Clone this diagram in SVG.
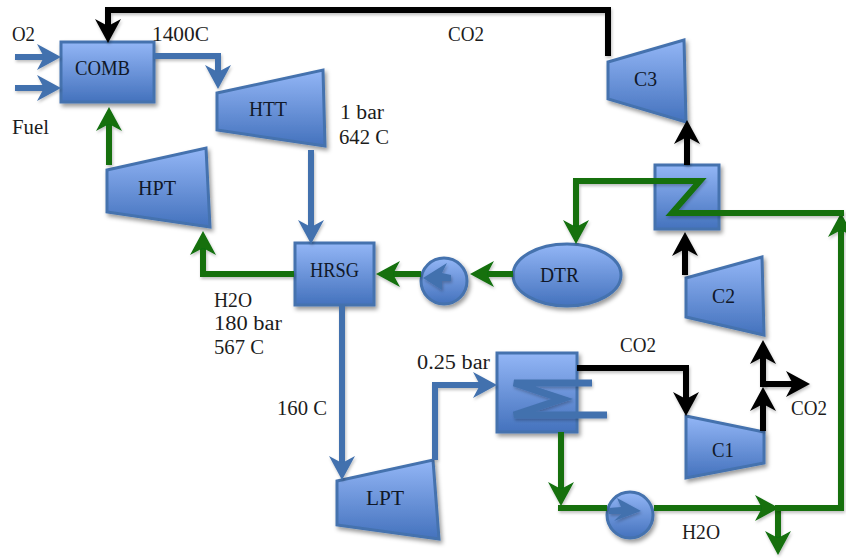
<svg xmlns="http://www.w3.org/2000/svg" width="846" height="558" viewBox="0 0 846 558">
<style>
text{font-family:"Liberation Serif","Times New Roman",serif;font-size:20px;fill:#1c1c1c}
.n{fill:url(#g);stroke:#4472ae;stroke-width:3;filter:url(#s)}
.nt{fill:#101828}
.c{fill:none;stroke-width:6;stroke-linejoin:miter;filter:url(#s2)}
.b{stroke:#4271ae}.k{stroke:#000}.v{stroke:#12700f}
.mb{marker-end:url(#ab)}.mk{marker-end:url(#ak)}.mv{marker-end:url(#av)}
</style>
<defs>
<linearGradient id="g" x1="0" y1="0" x2="0" y2="1"><stop offset="0" stop-color="#93b6f6"/><stop offset="1" stop-color="#4472bd"/></linearGradient>
<filter id="s" filterUnits="userSpaceOnUse" x="0" y="0" width="846" height="558"><feDropShadow dx="2" dy="3" stdDeviation="2" flood-color="#000" flood-opacity=".4"/></filter>
<filter id="s2" filterUnits="userSpaceOnUse" x="0" y="0" width="846" height="558"><feDropShadow dx="1" dy="2" stdDeviation="1.5" flood-color="#000" flood-opacity=".25"/></filter>
<marker id="ab" markerUnits="userSpaceOnUse" markerWidth="26" markerHeight="28" refX="8" refY="14" orient="auto"><path d="M0 1 24 14 0 27 7 14Z" fill="#4271ae"/></marker>
<marker id="ak" markerUnits="userSpaceOnUse" markerWidth="26" markerHeight="28" refX="8" refY="14" orient="auto"><path d="M0 1 24 14 0 27 7 14Z" fill="#000"/></marker>
<marker id="av" markerUnits="userSpaceOnUse" markerWidth="26" markerHeight="28" refX="8" refY="14" orient="auto"><path d="M0 1 24 14 0 27 7 14Z" fill="#12700f"/></marker>
</defs>
<rect width="846" height="558" fill="#fff"/>
<g id="COMB"><rect class="n" x="61" y="42" width="93" height="60"/><text class="nt" x="75" y="75" textLength="55" lengthAdjust="spacingAndGlyphs">COMB</text></g>
<g id="HTT"><polygon class="n" points="217,93 323,70 325,146 217,130"/><text class="nt" x="249" y="116" textLength="38" lengthAdjust="spacingAndGlyphs">HTT</text></g>
<g id="HPT"><polygon class="n" points="107,170 206,148 210,227 107,212"/><text class="nt" x="138" y="195" textLength="38" lengthAdjust="spacingAndGlyphs">HPT</text></g>
<g id="HRSG"><rect class="n" x="295" y="243" width="79" height="62"/><text class="nt" x="310" y="277" textLength="49" lengthAdjust="spacingAndGlyphs">HRSG</text></g>
<g id="PUMP1"><circle class="n" cx="444" cy="281" r="23"/></g>
<g id="DTR"><ellipse class="n" cx="567" cy="275" rx="54" ry="31"/><text class="nt" x="540" y="282" textLength="39" lengthAdjust="spacingAndGlyphs">DTR</text></g>
<g id="HX"><rect class="n" x="655" y="165" width="64" height="64"/></g>
<g id="C3"><polygon class="n" points="608,62 684,40 686,122 608,99"/><text class="nt" x="634" y="86" textLength="23" lengthAdjust="spacingAndGlyphs">C3</text></g>
<g id="C2"><polygon class="n" points="686,278 762,257 764,335 686,317"/><text class="nt" x="712" y="303" textLength="23" lengthAdjust="spacingAndGlyphs">C2</text></g>
<g id="C1"><polygon class="n" points="686,416 764,432 764,463 686,478"/><text class="nt" x="712" y="457" textLength="22" lengthAdjust="spacingAndGlyphs">C1</text></g>
<g id="COND"><rect class="n" x="497" y="353" width="80" height="79"/></g>
<g id="LPT"><polygon class="n" points="337,481 433,460 439,539 337,525"/><text class="nt" x="366" y="505" textLength="38" lengthAdjust="spacingAndGlyphs">LPT</text></g>
<g id="PUMP2"><circle class="n" cx="630" cy="515" r="23"/></g>
<g id="connectors">
<path class="c k mk" d="M608 56V10H108V27"/>
<path class="c b mb" d="M15 57H45"/>
<path class="c b mb" d="M15 88H45"/>
<path class="c b mb" d="M154 56H218V73"/>
<path class="c b mb" d="M311 150V228"/>
<path class="c b mb" d="M342 305V464"/>
<path class="c b mb" d="M435 460V385H481"/>
<path class="c b" style="stroke-width:7" d="M592 383H514L562 399 514 415H607"/>
<path class="c v mv" d="M109 165V123"/>
<path class="c v mv" d="M294 274H203V247"/>
<path class="c v mv" d="M421 274H392"/>
<path class="c v mv" d="M513 274H486"/>
<path class="c v mv" d="M561 432V490"/>
<path class="c v" d="M558 508H607"/>
<path class="c v mv" d="M654 508H763"/>
<path class="c v mv" d="M778 508V539"/>
<path class="c v mv" d="M775 508H841V229"/>
<path class="c v mv" d="M844 213H672L700 181H576V228"/>
<path class="c k mk" d="M577 368H686V400"/>
<path class="c k mk" d="M763 431V403"/>
<path class="c k mk" d="M763 387V356"/>
<path class="c k mk" d="M763 384H794"/>
<path class="c k mk" d="M685 275V248"/>
<path class="c k mk" d="M687 165V136"/>
<path d="M423 278 447 263 442 273 451 275 451 281 442 281 442 290Z" fill="#4271ae" filter="url(#s2)"/>
<path d="M641 511 617 498 621 507 609 508 609 514 621 514 614 521Z" fill="#4271ae" filter="url(#s2)"/>
</g>
<g id="labels">
<text x="12" y="41" textLength="23" lengthAdjust="spacingAndGlyphs">O2</text>
<text x="12" y="134" textLength="37" lengthAdjust="spacingAndGlyphs">Fuel</text>
<text x="152" y="41" textLength="57" lengthAdjust="spacingAndGlyphs">1400C</text>
<text x="448" y="41" textLength="36" lengthAdjust="spacingAndGlyphs">CO2</text>
<text x="340" y="119" textLength="44" lengthAdjust="spacingAndGlyphs">1 bar</text>
<text x="339" y="144" textLength="50" lengthAdjust="spacingAndGlyphs">642 C</text>
<text x="214" y="307" textLength="38" lengthAdjust="spacingAndGlyphs">H2O</text>
<text x="214" y="330" textLength="68" lengthAdjust="spacingAndGlyphs">180 bar</text>
<text x="214" y="354" textLength="50" lengthAdjust="spacingAndGlyphs">567 C</text>
<text x="277" y="415" textLength="50" lengthAdjust="spacingAndGlyphs">160 C</text>
<text x="417" y="369" textLength="73" lengthAdjust="spacingAndGlyphs">0.25 bar</text>
<text x="620" y="352" textLength="36" lengthAdjust="spacingAndGlyphs">CO2</text>
<text x="791" y="415" textLength="36" lengthAdjust="spacingAndGlyphs">CO2</text>
<text x="682" y="539" textLength="38" lengthAdjust="spacingAndGlyphs">H2O</text>
</g>
</svg>
